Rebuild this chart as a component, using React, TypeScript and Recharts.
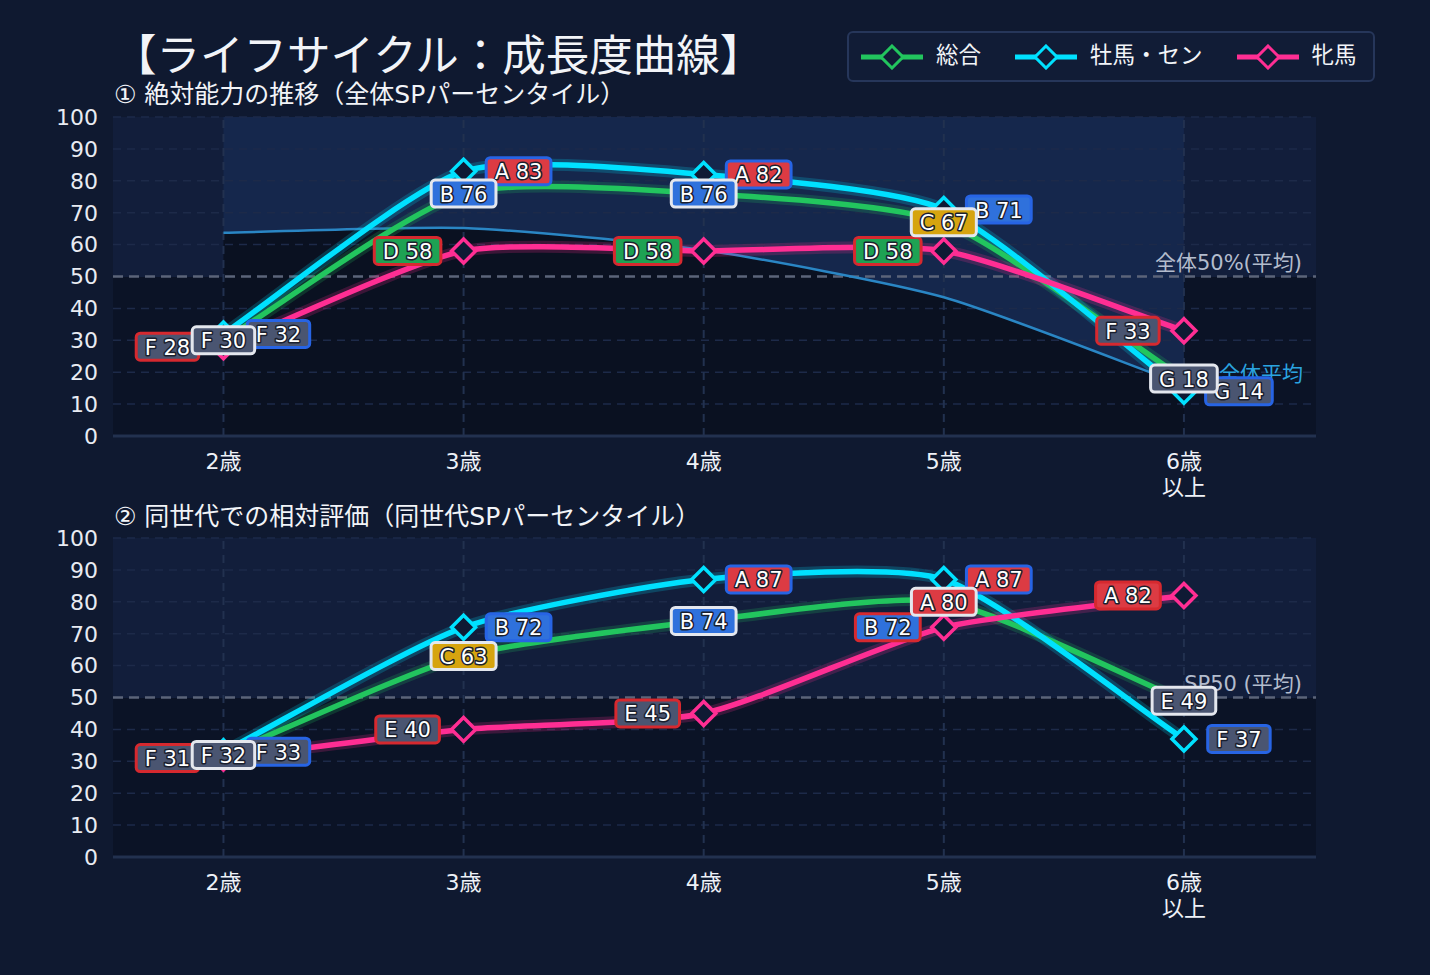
import React from 'react';
import {
  ComposedChart,
  Line,
  Area,
  XAxis,
  YAxis,
  CartesianGrid,
  ReferenceLine,
} from 'recharts';

const AGE_LABELS = ['2歳', '3歳', '4歳', '5歳', '6歳\n以上'];
const AGE_INDEX = [0, 1, 2, 3, 4];
const Y_TICKS = [0, 10, 20, 30, 40, 50, 60, 70, 80, 90, 100];
const GRID_Y = [10, 20, 30, 40, 60, 70, 80, 90, 100];

// ① 絶対能力（全体SPパーセンタイル）
const absTotal = [30, 76, 76, 67, 18];
const absColt = [32, 83, 82, 71, 14];
const absFilly = [28, 58, 58, 58, 33];
const absAverage = [63.7, 65.2, 58.3, 43.5, 16];

// ② 同世代での相対評価
const relTotal = [32, 63, 74, 80, 49];
const relColt = [33, 72, 87, 87, 37];
const relFilly = [31, 40, 45, 72, 82];

const GRADE_STEPS: [number, string][] = [
  [80, 'A'],
  [70, 'B'],
  [60, 'C'],
  [50, 'D'],
  [40, 'E'],
  [20, 'F'],
  [0, 'G'],
];

const GRADE_FILL: Record<string, string> = {
  A: '#dc3b43',
  B: '#2f71dc',
  C: '#d6a40f',
  D: '#1ea253',
  E: '#4a5571',
  F: '#4a5571',
  G: '#4a5571',
};

const SERIES = [
  { key: 'total', name: '総合', color: '#22c55e', border: '#e4e7ee', dx: 0 },
  { key: 'colt', name: '牡馬・セン', color: '#00e1ff', border: '#2764e4', dx: 55 },
  { key: 'filly', name: '牝馬', color: '#ff2e93', border: '#d6292f', dx: -56 },
];

const LIGHT = '#121e3b';
const DARK = '#0b1326';
const STRIPES = [LIGHT, LIGHT, LIGHT, LIGHT, LIGHT, DARK, DARK, DARK, DARK, DARK];

const FONT = "'DejaVu Sans', 'Noto Sans CJK JP', sans-serif";

const gradeOf = (v: number) => GRADE_STEPS.find(([min]) => v >= min)![1];

// DejaVu Sans advance widths (em)
const CHAR_W: Record<string, number> = {
  A: 0.684, B: 0.686, C: 0.698, D: 0.77, E: 0.632, F: 0.575, G: 0.775, ' ': 0.318,
};
const textWidth = (s: string, size: number) =>
  s.split('').reduce((w, c) => w + (CHAR_W[c] ?? 0.636) * size, 0);

// Bezier spline with control points weighted by neighbour distance
class TensionSpline {
  _ctx: any;
  _line = NaN;
  _pts: [number, number][] = [];
  constructor(ctx: any) {
    this._ctx = ctx;
  }
  areaStart() {
    this._line = 0;
  }
  areaEnd() {
    this._line = NaN;
  }
  lineStart() {
    this._pts = [];
  }
  point(x: number, y: number) {
    this._pts.push([+x, +y]);
  }
  lineEnd() {
    const p = this._pts;
    const n = p.length;
    const c = this._ctx;
    const t = 0.21;
    if (n) {
      if (this._line) c.lineTo(p[0][0], p[0][1]);
      else c.moveTo(p[0][0], p[0][1]);
      if (n > 1) {
        const prevCp: [number, number][] = [];
        const nextCp: [number, number][] = [];
        for (let i = 0; i < n; i++) {
          const a = p[i - 1] || p[i];
          const b = p[i];
          const d = p[i + 1] || p[i];
          const d01 = Math.hypot(b[0] - a[0], b[1] - a[1]);
          const d12 = Math.hypot(d[0] - b[0], d[1] - b[1]);
          const sum = d01 + d12 || 1;
          const fa = (t * d01) / sum;
          const fb = (t * d12) / sum;
          prevCp.push([b[0] - fa * (d[0] - a[0]), b[1] - fa * (d[1] - a[1])]);
          nextCp.push([b[0] + fb * (d[0] - a[0]), b[1] + fb * (d[1] - a[1])]);
        }
        for (let i = 0; i < n - 1; i++) {
          c.bezierCurveTo(
            nextCp[i][0], nextCp[i][1],
            prevCp[i + 1][0], prevCp[i + 1][1],
            p[i + 1][0], p[i + 1][1],
          );
        }
      }
    }
    if (this._line || (this._line !== 0 && n === 1)) c.closePath();
    this._line = 1 - this._line;
  }
}
const tensionCurve: any = (ctx: any) => new TensionSpline(ctx);

const diamond = (color: string) => (props: any) => {
  const { cx, cy, index } = props;
  if (cx == null || cy == null) return <g key={`d-${index}`} />;
  const r = 12;
  return (
    <path
      key={`d-${index}`}
      d={`M${cx},${cy - r}L${cx + r},${cy}L${cx},${cy + r}L${cx - r},${cy}Z`}
      fill="#0f1a34"
      stroke={color}
      strokeWidth={3.5}
    />
  );
};

const badge = (border: string, dx: number) => (props: any) => {
  const vb = props.viewBox || {};
  const x = vb.x ?? props.x;
  const y = vb.y ?? props.y;
  const v = props.value;
  if (x == null || y == null || v == null) return null;
  const g = gradeOf(Number(v));
  const text = `${g} ${v}`;
  const w = textWidth(text, 21) + 17;
  const h = 27;
  const cx = x + dx;
  return (
    <g key={`b-${props.index}`}>
      <rect
        x={cx - w / 2}
        y={y - h / 2}
        width={w}
        height={h}
        rx={4}
        fill={GRADE_FILL[g]}
        stroke={border}
        strokeWidth={3}
      />
      <text
        x={cx}
        y={y + 1}
        textAnchor="middle"
        dominantBaseline="central"
        fontSize={21}
        fill="#ffffff"
        stroke="#1a1f2e"
        strokeWidth={3}
        strokeLinejoin="round"
        paintOrder="stroke"
      >
        {text}
      </text>
    </g>
  );
};

const averageLabel = (props: any) => {
  const vb = props.viewBox || {};
  const x = vb.x ?? props.x;
  const y = vb.y ?? props.y;
  if (props.index !== AGE_INDEX.length - 1 || x == null) return null;
  return (
    <text
      key="avg-label"
      x={x + 35}
      y={y - 11}
      dominantBaseline="central"
      fontSize={21}
      fill="#2aa4e0"
    >
      全体平均
    </text>
  );
};

const midLineLabel = (text: string) => (props: any) => {
  const vb = props.viewBox;
  return (
    <text
      x={vb.x + vb.width - 14}
      y={vb.y - 14}
      textAnchor="end"
      dominantBaseline="central"
      fontSize={21}
      fill="#b3bccd"
    >
      {text}
    </text>
  );
};

const AgeTick = (props: any) => {
  const { x, y, payload } = props;
  const lines = AGE_LABELS[payload.value].split('\n');
  return (
    <text x={x} y={y} textAnchor="middle" fill="#eef1f7" fontSize={22}>
      {lines.map((line, i) => (
        <tspan key={i} x={x} dy={i === 0 ? 31 : 26}>
          {line}
        </tspan>
      ))}
    </text>
  );
};

type PanelProps = {
  top: number;
  total: number[];
  colt: number[];
  filly: number[];
  average?: number[];
  midLabel: string;
};

const GrowthPanel = ({ top, total, colt, filly, average, midLabel }: PanelProps) => {
  const data = AGE_INDEX.map((i) => ({
    age: i,
    total: total[i],
    colt: colt[i],
    filly: filly[i],
    avg: average ? average[i] : undefined,
    rest: average ? 100 - average[i] : undefined,
  }));
  // badges of 総合 go last so they sit on top
  const labelOrder = [SERIES[2], SERIES[1], SERIES[0]];

  return (
    <div style={{ position: 'absolute', left: 0, top }}>
      <ComposedChart
        width={1430}
        height={520}
        data={data}
        margin={{ top: 117, right: 114, bottom: 24, left: 13 }}
      >
        <CartesianGrid vertical={false} stroke="none" horizontalFill={STRIPES} fillOpacity={1} />
        {average && (
          <Area
            dataKey="avg"
            stackId="band"
            type={tensionCurve}
            fill="#0a1121"
            fillOpacity={1}
            stroke="none"
            isAnimationActive={false}
          />
        )}
        {average && (
          <Area
            dataKey="rest"
            stackId="band"
            type={tensionCurve}
            fill="#15274c"
            fillOpacity={1}
            stroke="none"
            isAnimationActive={false}
          />
        )}
        {GRID_Y.map((v) => (
          <ReferenceLine
            key={`gy-${v}`}
            y={v}
            stroke="#1d2a49"
            strokeDasharray="8 6"
            strokeWidth={1.5}
            zIndex={150}
          />
        ))}
        {AGE_INDEX.map((v) => (
          <ReferenceLine
            key={`gx-${v}`}
            x={v}
            stroke="#22314f"
            strokeDasharray="8 6"
            strokeWidth={2}
            zIndex={150}
          />
        ))}
        <ReferenceLine
          y={50}
          stroke="#5b6479"
          strokeDasharray="10 6"
          strokeWidth={2.5}
          zIndex={150}
          label={midLineLabel(midLabel)}
        />
        <XAxis
          dataKey="age"
          type="number"
          domain={[-0.46, 4.55]}
          ticks={AGE_INDEX}
          interval={0}
          tick={AgeTick}
          tickLine={false}
          tickSize={0}
          axisLine={{ stroke: '#22314f', strokeWidth: 3 }}
          height={60}
        />
        <YAxis
          type="number"
          domain={[0, 100]}
          ticks={Y_TICKS}
          interval={0}
          tick={{ fill: '#e8ebf2', fontSize: 22 }}
          tickLine={false}
          tickSize={0}
          tickMargin={15}
          axisLine={false}
          width={100}
        />
        {average && (
          <Line
            dataKey="avg"
            type={tensionCurve}
            stroke="#2a86c4"
            strokeWidth={2.5}
            dot={false}
            activeDot={false}
            label={averageLabel}
            isAnimationActive={false}
          />
        )}
        {SERIES.map((s) => (
          <Line
            key={`glow-${s.key}`}
            dataKey={s.key}
            type={tensionCurve}
            stroke={s.color}
            strokeOpacity={0.2}
            strokeWidth={12}
            dot={false}
            activeDot={false}
            isAnimationActive={false}
          />
        ))}
        {SERIES.map((s) => (
          <Line
            key={`line-${s.key}`}
            dataKey={s.key}
            type={tensionCurve}
            stroke={s.color}
            strokeWidth={5.5}
            dot={false}
            activeDot={false}
            isAnimationActive={false}
          />
        ))}
        {labelOrder.map((s) => (
          <Line
            key={`mark-${s.key}`}
            dataKey={s.key}
            type="linear"
            stroke="none"
            dot={diamond(s.color)}
            activeDot={false}
            label={badge(s.border, s.dx)}
            isAnimationActive={false}
          />
        ))}
      </ComposedChart>
    </div>
  );
};

const LegendIcon = ({ color }: { color: string }) => (
  <svg width={62} height={26} style={{ display: 'block' }}>
    <line x1={0} y1={13} x2={62} y2={13} stroke={color} strokeWidth={5} />
    <path d="M31,2L42,13L31,24L20,13Z" fill="#111c36" stroke={color} strokeWidth={3} />
  </svg>
);

export default function App() {
  return (
    <div
      style={{
        position: 'fixed',
        left: 0,
        top: 0,
        width: 1430,
        height: 975,
        overflow: 'hidden',
        background: '#0f1930',
        fontFamily: FONT,
        color: '#f2f4f8',
      }}
    >
      <div style={{ position: 'absolute', left: 113, top: 34, fontSize: 43.5, lineHeight: '44px', whiteSpace: 'nowrap' }}>
        【ライフサイクル：成長度曲線】
      </div>
      <div style={{ position: 'absolute', left: 114, top: 82, fontSize: 25, lineHeight: '25px', whiteSpace: 'nowrap' }}>
        ① 絶対能力の推移（全体SPパーセンタイル）
      </div>
      <div style={{ position: 'absolute', left: 114, top: 504, fontSize: 25, lineHeight: '25px', whiteSpace: 'nowrap' }}>
        ② 同世代での相対評価（同世代SPパーセンタイル）
      </div>

      <GrowthPanel
        top={0}
        total={absTotal}
        colt={absColt}
        filly={absFilly}
        average={absAverage}
        midLabel="全体50%(平均)"
      />
      <GrowthPanel
        top={421}
        total={relTotal}
        colt={relColt}
        filly={relFilly}
        midLabel="SP50 (平均)"
      />

      <div
        style={{
          position: 'absolute',
          left: 847,
          top: 31,
          width: 528,
          height: 51,
          boxSizing: 'border-box',
          border: '2px solid #26365a',
          borderRadius: 6,
          background: '#111c36',
          display: 'flex',
          alignItems: 'center',
          paddingLeft: 12,
        }}
      >
        {SERIES.map((s) => (
          <div key={s.key} style={{ display: 'flex', alignItems: 'center', marginRight: 34 }}>
            <LegendIcon color={s.color} />
            <span
              style={{
                marginLeft: 13,
                fontSize: 22.5,
                lineHeight: '26px',
                whiteSpace: 'nowrap',
                position: 'relative',
                top: -2,
              }}
            >
              {s.name}
            </span>
          </div>
        ))}
      </div>
    </div>
  );
}
